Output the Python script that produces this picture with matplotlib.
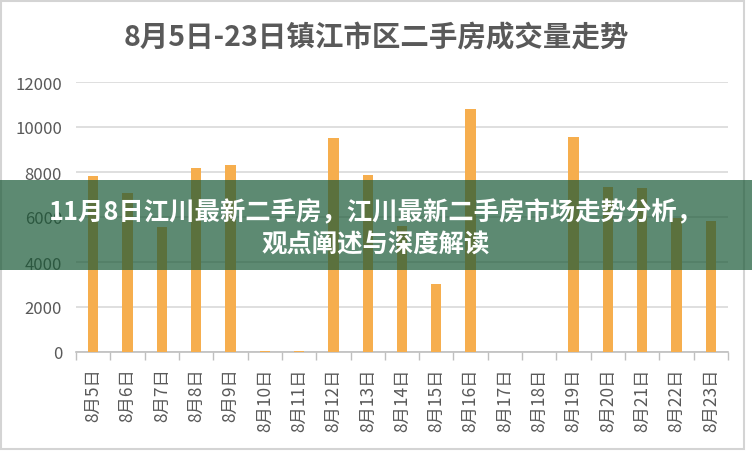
import matplotlib
matplotlib.use('Agg')
import matplotlib.pyplot as plt
from matplotlib.patches import Rectangle

plt.rcParams['font.family'] = ['Noto Sans CJK SC', 'DejaVu Sans']

# 数据：8月5日-23日 镇江市区二手房成交量
dates = ['8月5日', '8月6日', '8月7日', '8月8日', '8月9日', '8月10日', '8月11日',
         '8月12日', '8月13日', '8月14日', '8月15日', '8月16日', '8月17日', '8月18日',
         '8月19日', '8月20日', '8月21日', '8月22日', '8月23日']
volume = [7830, 7050, 5560, 8190, 8310, 40, 40, 9510, 7880, 5600, 3010, 10800,
          0, 0, 9540, 7350, 7290, 5950, 5840]
y_ticks = [0, 2000, 4000, 6000, 8000, 10000, 12000]

title = '8月5日-23日镇江市区二手房成交量走势'
banner_lines = ['11月8日江川最新二手房，江川最新二手房市场走势分析，',
                '观点阐述与深度解读']

fig = plt.figure(figsize=(7.52, 4.52), dpi=100)
ax = fig.add_axes([76 / 752, 99 / 452, 652 / 752, 270 / 452])

x = list(range(len(dates)))
ax.bar(x, volume, width=0.3, color='#F6AE4E', zorder=3)

ax.set_xlim(-0.5, len(dates) - 0.5)
ax.set_ylim(0, 12000)
ax.set_yticks(y_ticks)
ax.set_yticklabels([str(v) for v in y_ticks], color='#595959', fontsize=12)
ax.grid(axis='y', color='#d9d9d9', linewidth=1.2, zorder=0)

ax.set_xticks(x)
ax.set_xticklabels(dates, rotation=90, color='#595959', fontsize=12.5)
ax.set_xticks([i - 0.5 for i in range(len(dates) + 1)], minor=True)
ax.tick_params(axis='x', which='major', length=0, pad=11)
ax.tick_params(axis='x', which='minor', length=6, color='#bfbfbf', width=1)
ax.tick_params(axis='y', length=0, pad=10)

for side in ['top', 'right', 'left']:
    ax.spines[side].set_visible(False)
ax.spines['bottom'].set_color('#bfbfbf')
ax.spines['bottom'].set_linewidth(1.2)

fig.text(376 / 752, 1 - 38 / 452, title, ha='center', va='center',
         fontsize=20.5, fontweight='bold', color='#595959')

# 外框
fig.patches.append(Rectangle((1 / 752, 2 / 452), 743 / 752, 448 / 452,
                             transform=fig.transFigure, fill=False,
                             edgecolor='#d4d4d4', linewidth=1.5))

# 绿色横幅
fig.patches.append(Rectangle((0, 181 / 452), 1, 90 / 452,
                             transform=fig.transFigure, facecolor='#195836',
                             alpha=0.7, edgecolor='none', zorder=10))
fig.text(376 / 752, 1 - 213 / 452, banner_lines[0], ha='center', va='center',
         fontsize=18.3, fontweight='bold', color='white', zorder=11)
fig.text(376 / 752, 1 - 245 / 452, banner_lines[1], ha='center', va='center',
         fontsize=18.3, fontweight='bold', color='white', zorder=11)

plt.savefig('out.png', dpi=100)
